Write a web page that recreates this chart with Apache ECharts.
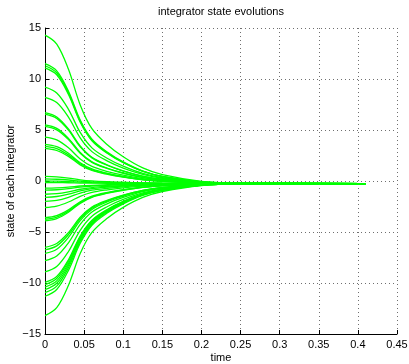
<!DOCTYPE html>
<html>
<head>
<meta charset="utf-8">
<title>integrator state evolutions</title>
<script src="https://cdn.jsdelivr.net/npm/echarts@6/dist/echarts.min.js"></script>
<style>
  html, body { margin: 0; padding: 0; background: #fff; }
  #chart { width: 409px; height: 364px; }
</style>
</head>
<body>
<div id="chart"></div>
<script>
// Sample instants (s) at which every integrator state is recorded
const sampleTimes = [0, 0.015, 0.03, 0.045, 0.06, 0.08, 0.1, 0.125, 0.15, 0.2, 0.25, 0.41];

// Integrators starting well above the consensus value
const upperStates = [
  [14.3, 13.43, 10.95, 7.46, 5.13, 3.53, 2.37, 1.28, 0.62, -0.03, -0.21, -0.25],
  [11.5, 10.8, 8.8, 5.98, 4.1, 2.81, 1.87, 0.98, 0.46, -0.07, -0.21, -0.25],
  [11.3, 10.61, 8.64, 5.87, 4.02, 2.75, 1.83, 0.96, 0.44, -0.08, -0.22, -0.25],
  [11.1, 10.42, 8.49, 5.77, 3.95, 2.7, 1.79, 0.94, 0.43, -0.08, -0.22, -0.25],
  [9.2, 8.63, 7.03, 4.76, 3.25, 2.21, 1.45, 0.74, 0.32, -0.11, -0.22, -0.25],
  [8.2, 7.69, 6.26, 4.23, 2.88, 1.95, 1.27, 0.64, 0.26, -0.12, -0.22, -0.25],
  [6.7, 6.28, 5.1, 3.43, 2.32, 1.56, 1.0, 0.48, 0.17, -0.15, -0.23, -0.25],
  [6.55, 6.14, 4.99, 3.35, 2.27, 1.52, 0.97, 0.46, 0.16, -0.15, -0.23, -0.25],
  [5.5, 5.16, 4.18, 2.8, 1.88, 1.25, 0.79, 0.35, 0.1, -0.16, -0.23, -0.25],
  [5.35, 5.01, 4.06, 2.72, 1.82, 1.21, 0.76, 0.34, 0.09, -0.17, -0.23, -0.25],
  [4.3, 4.03, 3.25, 2.16, 1.43, 0.93, 0.57, 0.23, 0.02, -0.18, -0.24, -0.25],
  [3.6, 3.37, 2.72, 1.79, 1.18, 0.75, 0.44, 0.15, -0.02, -0.19, -0.24, -0.25],
  [3.4, 3.18, 2.56, 1.69, 1.1, 0.7, 0.41, 0.13, -0.03, -0.2, -0.24, -0.25],
  [3.2, 2.99, 2.41, 1.58, 1.03, 0.65, 0.37, 0.11, -0.04, -0.2, -0.24, -0.25]
];

// Integrators starting close to the consensus value
const middleStates = [
  [0.45, 0.41, 0.29, 0.12, 0.01, -0.07, -0.12, -0.18, -0.21, -0.24, -0.25, -0.25],
  [0.2, 0.17, 0.1, -0.01, -0.08, -0.13, -0.17, -0.2, -0.22, -0.24, -0.25, -0.25],
  [0, -0.02, -0.06, -0.12, -0.16, -0.19, -0.21, -0.22, -0.24, -0.25, -0.25, -0.25],
  [-0.15, -0.16, -0.17, -0.2, -0.21, -0.22, -0.23, -0.24, -0.24, -0.25, -0.25, -0.25],
  [-0.7, -0.67, -0.6, -0.49, -0.42, -0.37, -0.33, -0.3, -0.28, -0.26, -0.25, -0.25],
  [-0.9, -0.86, -0.75, -0.6, -0.49, -0.42, -0.37, -0.32, -0.29, -0.26, -0.25, -0.25],
  [-1.3, -1.24, -1.06, -0.81, -0.64, -0.52, -0.44, -0.36, -0.31, -0.27, -0.25, -0.25],
  [-1.6, -1.52, -1.29, -0.97, -0.75, -0.6, -0.49, -0.39, -0.33, -0.27, -0.25, -0.25],
  [-2.0, -1.9, -1.6, -1.18, -0.9, -0.71, -0.57, -0.43, -0.36, -0.28, -0.26, -0.25],
  [-2.6, -2.46, -2.06, -1.5, -1.12, -0.86, -0.67, -0.5, -0.39, -0.29, -0.26, -0.25],
  [-3.6, -3.4, -2.83, -2.03, -1.49, -1.12, -0.85, -0.6, -0.45, -0.3, -0.26, -0.25],
  [-3.75, -3.54, -2.95, -2.11, -1.55, -1.16, -0.88, -0.62, -0.46, -0.3, -0.26, -0.25],
  [-3.9, -3.68, -3.06, -2.19, -1.6, -1.2, -0.91, -0.63, -0.47, -0.31, -0.26, -0.25]
];

// Integrators starting well below the consensus value
const lowerStates = [
  [-6.5, -6.13, -5.06, -3.56, -2.56, -1.88, -1.38, -0.91, -0.63, -0.34, -0.27, -0.25],
  [-6.75, -6.36, -5.26, -3.7, -2.66, -1.94, -1.42, -0.93, -0.64, -0.35, -0.27, -0.25],
  [-7.1, -6.69, -5.53, -3.88, -2.79, -2.03, -1.48, -0.97, -0.66, -0.35, -0.27, -0.25],
  [-7.8, -7.35, -6.06, -4.25, -3.04, -2.21, -1.61, -1.04, -0.7, -0.36, -0.27, -0.25],
  [-8.9, -8.38, -6.91, -4.83, -3.45, -2.5, -1.81, -1.16, -0.77, -0.38, -0.28, -0.25],
  [-9.95, -9.37, -7.72, -5.39, -3.84, -2.77, -2.0, -1.27, -0.83, -0.4, -0.28, -0.25],
  [-10.15, -9.56, -7.87, -5.5, -3.91, -2.82, -2.03, -1.29, -0.84, -0.4, -0.28, -0.25],
  [-10.4, -9.79, -8.07, -5.63, -4.01, -2.89, -2.08, -1.32, -0.86, -0.4, -0.28, -0.25],
  [-10.65, -10.03, -8.26, -5.76, -4.1, -2.95, -2.12, -1.34, -0.87, -0.41, -0.28, -0.25],
  [-10.95, -10.31, -8.49, -5.92, -4.21, -3.03, -2.18, -1.37, -0.89, -0.41, -0.28, -0.25],
  [-11.3, -10.64, -8.76, -6.11, -4.34, -3.12, -2.24, -1.41, -0.91, -0.42, -0.28, -0.25],
  [-13.2, -12.42, -10.22, -7.11, -5.04, -3.62, -2.58, -1.61, -1.03, -0.44, -0.29, -0.25]
];

// Axis tick values
const timeTicks = [0, 0.05, 0.1, 0.15, 0.2, 0.25, 0.3, 0.35, 0.4, 0.45];
const stateTicks = [-15, -10, -5, 0, 5, 10, 15];

const FONT = '"Liberation Sans", Arial, Helvetica, sans-serif';
const allStates = upperStates.concat(middleStates, lowerStates);

const series = allStates.map(function (values, k) {
  return {
    name: 'integrator ' + (k + 1),
    type: 'line',
    data: sampleTimes.map(function (t, i) { return [t, values[i]]; }),
    smooth: 0.35,
    showSymbol: false,
    symbol: 'none',
    silent: true,
    lineStyle: { color: '#00ff00', width: 1.3 },
    z: 3
  };
});

const gridLine = { show: true, lineStyle: { color: '#6f6f6f', width: 1, type: [1, 3] } };
const axisText = { color: '#000', fontFamily: FONT, fontSize: 11 };

const chart = echarts.init(document.getElementById('chart'), null, { renderer: 'canvas' });
chart.setOption({
  animation: false,
  backgroundColor: '#ffffff',
  title: {
    text: 'integrator state evolutions',
    left: 221,
    top: 6,
    textAlign: 'center',
    padding: 0,
    textStyle: { color: '#000', fontFamily: FONT, fontSize: 11, fontWeight: 'normal' }
  },
  grid: { left: 45, right: 12, top: 28, bottom: 30, containLabel: false, outerBoundsMode: 'none' },
  xAxis: {
    type: 'value',
    min: timeTicks[0],
    max: timeTicks[timeTicks.length - 1],
    interval: timeTicks[1] - timeTicks[0],
    name: 'time',
    nameLocation: 'middle',
    nameGap: 18,
    nameMoveOverlap: false,
    nameTextStyle: axisText,
    axisLine: { show: true, onZero: false, lineStyle: { color: '#000', width: 1 } },
    axisTick: { show: true, inside: true, length: 4, lineStyle: { color: '#000' } },
    axisLabel: Object.assign({ margin: 5, formatter: function (v) { return String(+v.toFixed(2)); } }, axisText),
    splitLine: gridLine
  },
  yAxis: {
    type: 'value',
    min: stateTicks[0],
    max: stateTicks[stateTicks.length - 1],
    interval: stateTicks[1] - stateTicks[0],
    name: 'state of each integrator',
    nameLocation: 'middle',
    nameGap: 29,
    nameMoveOverlap: false,
    nameTextStyle: axisText,
    axisLine: { show: true, onZero: false, lineStyle: { color: '#000', width: 1 } },
    axisTick: { show: true, inside: true, length: 4, lineStyle: { color: '#000' } },
    axisLabel: Object.assign({ margin: 4, formatter: function (v) { return v < 0 ? '\u2212' + Math.abs(v) : String(v); } }, axisText),
    splitLine: gridLine
  },
  series: series
});
</script>
</body>
</html>
